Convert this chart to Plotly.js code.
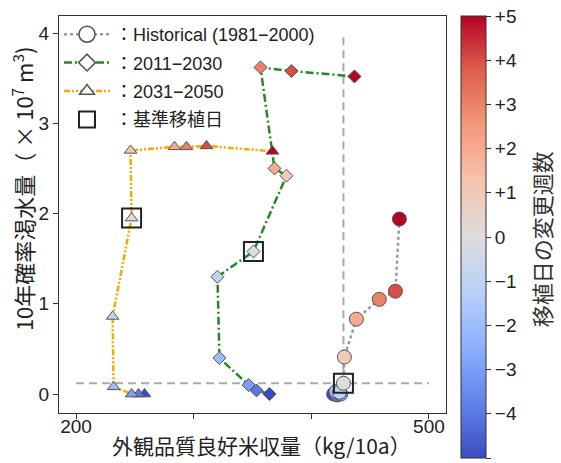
<!DOCTYPE html>
<html><head><meta charset="utf-8">
<script src="https://cdn.plot.ly/plotly-3.0.1.min.js"></script>
<style>html,body{margin:0;padding:0;background:#fff;}#chart{width:561px;height:463px;}</style>
</head><body><div id="chart"></div>
<script>
// Transplant-date shift (weeks), -5 ... +5
const shifts = [-5,-4,-3,-2,-1,0,1,2,3,4,5];
// Historical (1981-2000)
const histX = [419, 422, 425, 421, 424, 427.3, 428.1, 438.3, 457.8, 471.5, 474.9];
const histY = [0.00, -0.01, 0.00, 0.03, 0.02, 0.12, 0.41, 0.83, 1.05, 1.14, 1.94];
// 2011-2030
const p1X = [364.4, 353.4, 346.6, 321.9, 320.2, 350.8, 378.9, 368.7, 356.8, 383.1, 436.7];
const p1Y = [0.00, 0.04, 0.10, 0.40, 1.30, 1.58, 2.42, 2.50, 3.62, 3.58, 3.52];
// 2031-2050
const p2X = [258.2, 253.1, 247.2, 231.9, 231.1, 247.2, 246.3, 283.7, 293.9, 310.9, 367.0];
const p2Y = [0.00, 0.00, 0.00, 0.08, 0.86, 1.95, 2.70, 2.74, 2.74, 2.75, 2.69];
const legendNames = ['：Historical (1981−2000)', '：2011−2030', '：2031−2050', '：基準移植日'];
const xTickVals = [200, 300, 400, 500];
const xTickText = ['200', '', '', '500'];   // 300 and 400 are hidden behind the axis title in the original
const yTickVals = [0, 1, 2, 3, 4];
const cbTickVals = [-5,-4,-3,-2,-1,0,1,2,3,4,5];
const cbTickText = ['−5','−4','−3','−2','−1','0','+1','+2','+3','+4','+5'];
const xTitle = '外観品質良好米収量（kg/10a）';
const yTitle = '10年確率渇水量（ × 10<sup>7</sup> m<sup>3</sup>)';
const cbTitle = '移植日の変更週数';

const coolwarm = [
  [0.0,'rgb(59,76,192)'],[0.125,'rgb(98,130,234)'],[0.25,'rgb(141,176,254)'],
  [0.375,'rgb(184,208,249)'],[0.5,'rgb(221,221,221)'],[0.625,'rgb(245,196,173)'],
  [0.75,'rgb(244,154,123)'],[0.875,'rgb(222,96,77)'],[1.0,'rgb(180,4,38)']
];
const FONT = '"Liberation Sans", Arial, "Noto Sans CJK JP", sans-serif';
const JFONT = '"Noto Sans CJK JP", "Liberation Sans", sans-serif';
const baseIdx = shifts.indexOf(0);

function series(x, y, sym, size, lineColor, dash, showCb) {
  const m = {symbol: sym, size: size, color: shifts, colorscale: coolwarm, cmin: -5, cmax: 5,
    line: {color: '#555', width: 1}};
  if (showCb) {
    m.showscale = true;
    m.colorbar = {
      x: 1.039, xanchor: 'left', y: 1, yanchor: 'top', lenmode: 'pixels', len: 442,
      thickness: 25, xpad: 0, ypad: 0, outlinewidth: 1, outlinecolor: '#333',
      tickmode: 'array', tickvals: cbTickVals, ticktext: cbTickText,
      ticks: 'outside', ticklen: 5, tickcolor: '#333',
      tickfont: {size: 19, color: '#222', family: FONT}
    };
  }
  return {x: x, y: y, mode: 'lines+markers', type: 'scatter', showlegend: false,
    line: {color: lineColor, width: 2.5, dash: dash}, marker: m, hoverinfo: 'x+y'};
}

const traces = [
  series(histX, histY, 'circle', 14, '#999999', 'dot', true),
  series(p1X, p1Y, 'diamond', 10, '#228B22', '8px,3px,2px,3px', false),
  series(p2X, p2Y, 'triangle-up', 11, '#FFA500', '6px,2px,2px,2px,2px,2px', false),
  {x: [histX[baseIdx], p1X[baseIdx], p2X[baseIdx]], y: [histY[baseIdx], p1Y[baseIdx], p2Y[baseIdx]],
   mode: 'markers', type: 'scatter', showlegend: false,
   marker: {symbol: 'square-open', size: 19, color: '#222', line: {width: 2, color: '#222'}}},
  // legend entries
  {x: [null], y: [null], name: legendNames[0], legendgroup: 'a', mode: 'lines+markers', type: 'scatter',
   line: {color: '#999999', width: 2.5, dash: 'dot'},
   marker: {symbol: 'circle', size: 16, color: '#fff', line: {color: '#555', width: 1.5}}},
  {x: [null], y: [null], name: legendNames[1], legendgroup: 'b', mode: 'lines+markers', type: 'scatter',
   line: {color: '#228B22', width: 2.5, dash: '8px,3px,2px,3px'},
   marker: {symbol: 'diamond', size: 13, color: '#fff', line: {color: '#555', width: 1.5}}},
  {x: [null], y: [null], name: legendNames[2], legendgroup: 'c', mode: 'lines+markers', type: 'scatter',
   line: {color: '#FFA500', width: 2.5, dash: '6px,2px,2px,2px,2px,2px'},
   marker: {symbol: 'triangle-up', size: 13, color: '#fff', line: {color: '#555', width: 1.5}}},
  {x: [null], y: [null], name: legendNames[3], legendgroup: 'd', mode: 'markers', type: 'scatter',
   marker: {symbol: 'square-open', size: 16, color: '#222', line: {color: '#222', width: 2}}}
];

const refX = histX[baseIdx], refY = histY[baseIdx];
const layout = {
  width: 561, height: 463,
  margin: {l: 59, r: 115, t: 16, b: 50, pad: 0},
  paper_bgcolor: '#fff', plot_bgcolor: '#fff',
  font: {family: FONT, color: '#222', size: 16},
  xaxis: {range: [185.5, 514.5], tickmode: 'array', tickvals: xTickVals, ticktext: xTickText,
    showgrid: false, zeroline: false, ticklabelstandoff: -9,
    showline: true, mirror: true, linecolor: '#333', linewidth: 1.2, ticks: 'outside', ticklen: 5, tickcolor: '#333',
    tickfont: {size: 19, color: '#222'}},
  yaxis: {range: [-0.21, 4.19], tickvals: yTickVals, showgrid: false, zeroline: false,
    showline: true, mirror: true, linecolor: '#333', linewidth: 1.2, ticks: 'outside', ticklen: 5, tickcolor: '#333',
    tickfont: {size: 19, color: '#222'}},
  annotations: [
    {text: xTitle, xref: 'paper', yref: 'paper', x: 0.5245, y: -0.08, xanchor: 'center', yanchor: 'middle',
     showarrow: false, font: {size: 21, color: '#222', family: JFONT}},
    {text: yTitle, xref: 'paper', yref: 'paper', x: -0.0956, y: 0.564, xanchor: 'center', yanchor: 'middle',
     textangle: -90, showarrow: false, font: {size: 22, color: '#222', family: JFONT}},
    {text: cbTitle, xref: 'paper', yref: 'paper', x: 1.246, y: 0.438, xanchor: 'center', yanchor: 'middle',
     textangle: -90, showarrow: false, font: {size: 22, color: '#333', family: JFONT}}
  ],
  shapes: [
    {type: 'line', xref: 'x', yref: 'y', x0: 200, x1: 500, y0: refY, y1: refY,
     line: {color: '#aaa', width: 2, dash: '8px,5px'}, layer: 'below'},
    {type: 'line', xref: 'x', yref: 'y', x0: refX, x1: refX, y0: refY, y1: 4.0,
     line: {color: '#aaa', width: 2, dash: '8px,5px'}, layer: 'below'}
  ],
  legend: {x: 0.0, y: 1.0, xanchor: 'left', yanchor: 'top', bgcolor: 'rgba(0,0,0,0)',
    borderwidth: 0, font: {size: 18, color: '#222', family: FONT}, traceorder: 'grouped',
    tracegroupgap: 2, itemwidth: 46}
};
Plotly.newPlot('chart', traces, layout, {displayModeBar: false, staticPlot: true});
</script></body></html>
